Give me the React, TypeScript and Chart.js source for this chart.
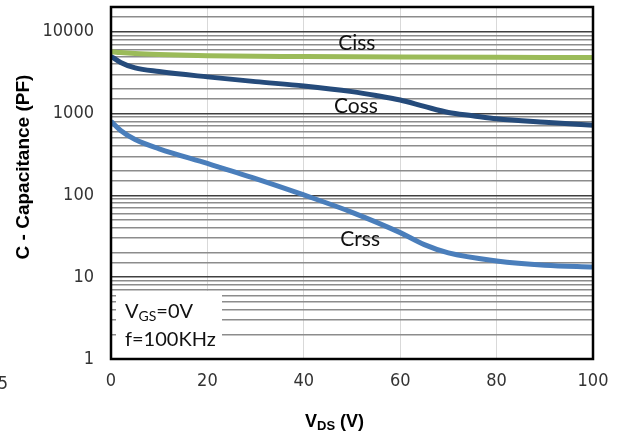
import React, { useEffect, useRef } from "react";
import { Chart, registerables } from "chart.js";

Chart.register(...registerables);

// V_DS (V) sample points for each curve
const cissX = [0, 2, 5, 10, 20, 40, 60, 80, 100];
const cissY = [5700, 5550, 5400, 5250, 5080, 4960, 4890, 4850, 4830];

const cossX = [0, 2, 5, 10, 20, 30, 40, 50, 55, 60, 65, 70, 75, 80, 90, 100];
const cossY = [5000, 4200, 3600, 3250, 2800, 2450, 2170, 1850, 1660, 1460, 1220, 1030, 940, 860, 780, 720];

const crssX = [0, 2, 5, 10, 20, 30, 40, 50, 60, 65, 70, 80, 90, 100];
const crssY = [800, 620, 480, 370, 245, 160, 101, 62, 35, 25, 19.8, 15.8, 14, 13.3];

const xTicks = [0, 20, 40, 60, 80, 100];
const yMajorTicks = [1, 10, 100, 1000, 10000];

// curve name annotations: [text, x, y]
const curveLabels: [string, number, number][] = [
  ["Ciss", 51, 7300],
  ["Coss", 50.8, 1240],
  ["Crss", 51.7, 29.3],
];

const TICK_FONT = "'DejaVu Sans Condensed', 'DejaVu Sans', sans-serif";
const LABEL_FONT = "Lato, 'Open Sans', sans-serif";
const TITLE_FONT = "'Liberation Sans', Arial, sans-serif";

const toPts = (xs: number[], ys: number[]) => xs.map((x, i) => ({ x, y: ys[i] }));

const isMajor = (v: number) => yMajorTicks.includes(v);

const overlayPlugin = {
  id: "overlay",
  beforeDatasetsDraw(chart: any) {
    const { ctx, chartArea } = chart;
    ctx.save();
    ctx.fillStyle = "#ffffff";
    ctx.fillRect(chartArea.left + 5, chartArea.bottom - 68, 106, 67);
    ctx.restore();
  },
  afterDatasetsDraw(chart: any) {
    const { ctx, chartArea, scales } = chart;
    ctx.save();
    // border
    ctx.strokeStyle = "#000";
    ctx.lineWidth = 2.5;
    ctx.strokeRect(chartArea.left, chartArea.top, chartArea.right - chartArea.left, chartArea.bottom - chartArea.top);

    // curve labels
    ctx.fillStyle = "#111";
    ctx.font = `21px ${LABEL_FONT}`;
    ctx.textAlign = "center";
    ctx.textBaseline = "middle";
    for (const [t, x, y] of curveLabels) {
      ctx.fillText(t, scales.x.getPixelForValue(x), scales.y.getPixelForValue(y));
    }

    // condition legend
    ctx.textAlign = "left";
    ctx.textBaseline = "alphabetic";
    let lx = chartArea.left + 14;
    const b1 = chartArea.bottom - 41;
    ctx.font = `20px ${LABEL_FONT}`;
    ctx.fillText("V", lx, b1);
    lx += ctx.measureText("V").width;
    ctx.font = `14px ${LABEL_FONT}`;
    ctx.fillText("GS", lx, b1 + 3);
    lx += ctx.measureText("GS").width;
    ctx.font = `20px ${LABEL_FONT}`;
    ctx.fillText("=0V", lx, b1);
    ctx.fillText("f=100KHz", chartArea.left + 14, chartArea.bottom - 13);

    // axis titles
    ctx.fillStyle = "#000";
    ctx.font = `bold 19px ${TITLE_FONT}`;
    ctx.save();
    ctx.translate(28.5, 167);
    ctx.rotate(-Math.PI / 2);
    ctx.textAlign = "center";
    ctx.fillText("C - Capacitance (PF)", 0, 0);
    ctx.restore();

    let tx = 305;
    const tb = 427;
    ctx.textAlign = "left";
    ctx.font = `bold 18px ${TITLE_FONT}`;
    ctx.fillText("V", tx, tb);
    tx += ctx.measureText("V").width;
    ctx.font = `bold 13px ${TITLE_FONT}`;
    ctx.fillText("DS", tx, tb + 3);
    tx += ctx.measureText("DS").width;
    ctx.font = `bold 18px ${TITLE_FONT}`;
    ctx.fillText(" (V)", tx, tb);

    // stray tick text at bottom-left
    ctx.font = `18px ${TICK_FONT}`;
    ctx.fillStyle = "#333";
    ctx.textAlign = "center";
    ctx.textBaseline = "middle";
    ctx.fillText("5", 3, 384);
    ctx.restore();
  },
};

export default function App() {
  const ref = useRef<HTMLCanvasElement | null>(null);
  useEffect(() => {
    if (!ref.current) return;
    const chart = new Chart(ref.current, {
      type: "line",
      data: {
        datasets: [
          {
            label: "Ciss",
            data: toPts(cissX, cissY),
            borderColor: "#9BBB59",
            borderWidth: 5,
            pointRadius: 0,
            cubicInterpolationMode: "monotone",
          },
          {
            label: "Coss",
            data: toPts(cossX, cossY),
            borderColor: "#254B7B",
            borderWidth: 5,
            pointRadius: 0,
            cubicInterpolationMode: "monotone",
          },
          {
            label: "Crss",
            data: toPts(crssX, crssY),
            borderColor: "#4A7EBB",
            borderWidth: 5,
            pointRadius: 0,
            cubicInterpolationMode: "monotone",
          },
        ],
      },
      options: {
        responsive: false,
        animation: false,
        layout: { padding: { left: 0, right: 26, top: 7, bottom: 0 } },
        plugins: { legend: { display: false }, tooltip: { enabled: false } },
        scales: {
          x: {
            type: "linear",
            min: 0,
            max: 100,
            afterBuildTicks: (s: any) => {
              s.ticks = xTicks.map((v) => ({ value: v }));
            },
            afterFit: (s: any) => {
              s.height = 75;
              s.paddingLeft = 0;
              s.paddingRight = 0;
            },
            ticks: {
              padding: 12,
              color: "#333",
              font: { family: TICK_FONT, size: 18 },
            },
            grid: { color: "#d9d9d9", lineWidth: 1, drawTicks: false },
            border: { display: false },
          },
          y: {
            type: "logarithmic",
            min: 1,
            max: 20000,
            afterFit: (s: any) => {
              s.width = 111;
              s.paddingTop = 0;
              s.paddingBottom = 0;
            },
            ticks: {
              autoSkip: false,
              padding: 17,
              color: "#333",
              font: { family: TICK_FONT, size: 18 },
              callback: (v: any) => (isMajor(Number(v)) ? String(v) : ""),
            },
            grid: {
              drawTicks: false,
              lineWidth: 1.5,
              color: (c: any) => (c.tick && isMajor(c.tick.value) ? "#404040" : "#8c8c8c"),
            },
            border: { display: false },
          },
        },
      },
      plugins: [overlayPlugin],
    } as any);
    return () => chart.destroy();
  }, []);
  return (
    <div style={{ position: "fixed", left: 0, top: 0, width: 619, height: 434, background: "#fff" }}>
      <canvas ref={ref} width={619} height={434} style={{ display: "block" }} />
    </div>
  );
}
